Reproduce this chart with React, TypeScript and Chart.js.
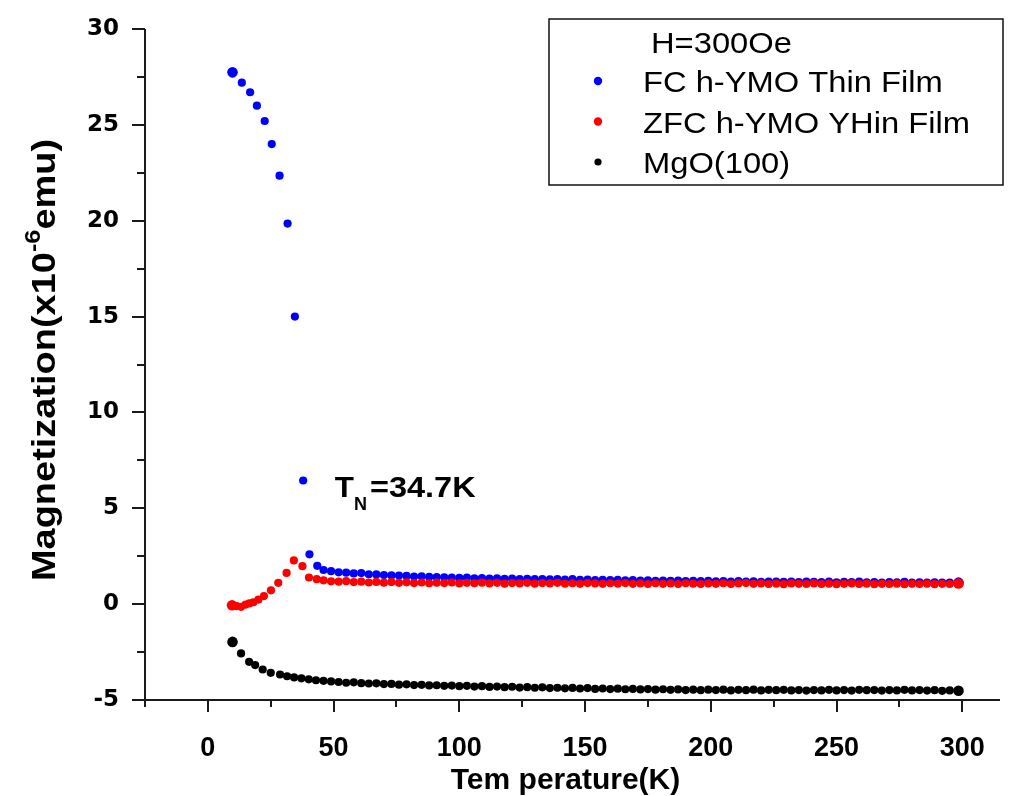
import React, { useEffect, useRef } from "react";
import { Chart, registerables } from "chart.js";

Chart.register(...registerables);

// ---------- data ----------
const highTemps = [
  49, 52, 55, 58, 61, 64, 67, 70, 73, 76,
  79, 82, 85, 88, 91, 94, 97, 100, 103, 106,
  109, 112, 115, 118, 121, 124, 127, 130, 133, 136,
  139, 142, 145, 148, 151, 154, 157, 160, 163, 166,
  169, 172, 175, 178, 181, 184, 187, 190, 193, 196,
  199, 202, 205, 208, 211, 214, 217, 220, 223, 226,
  229, 232, 235, 238, 241, 244, 247, 250, 253, 256,
  259, 262, 265, 268, 271, 274, 277, 280, 283, 286,
  289, 292, 295, 298.5,
];

const fcTemp = [9.8, 13.5, 16.8, 19.5, 22.6, 25.4, 28.5, 31.7, 34.6, 37.9, 40.4, 43.5, 46.0, ...highTemps];
const fcMag = [
  27.74, 27.2, 26.7, 26.0, 25.2, 24.0, 22.35, 19.85, 15.0, 6.45, 2.6, 2.0, 1.78,
  1.72, 1.66, 1.64, 1.6, 1.62, 1.56, 1.55, 1.52, 1.5, 1.49,
  1.47, 1.44, 1.45, 1.42, 1.41, 1.4, 1.38, 1.37, 1.38, 1.35,
  1.36, 1.33, 1.34, 1.32, 1.33, 1.31, 1.32, 1.3, 1.31, 1.29,
  1.3, 1.28, 1.3, 1.27, 1.28, 1.26, 1.27, 1.25, 1.27, 1.24,
  1.25, 1.23, 1.24, 1.22, 1.23, 1.21, 1.23, 1.2, 1.22, 1.2,
  1.21, 1.19, 1.2, 1.18, 1.2, 1.17, 1.19, 1.16, 1.18, 1.17,
  1.16, 1.18, 1.15, 1.17, 1.16, 1.15, 1.17, 1.14, 1.16, 1.15,
  1.17, 1.14, 1.15, 1.13, 1.15, 1.14, 1.16, 1.13, 1.14, 1.12,
  1.14, 1.13, 1.12, 1.12,
];

const zfcTemp = [9.6, 11.4, 13.2, 15.0, 16.5, 18.1, 20.1, 22.3, 25.1, 28.0, 31.3, 34.2, 37.6, 40.2, 43.3, 46.0, ...highTemps];
const zfcMag = [
  -0.06, -0.1, -0.14, -0.02, 0.04, 0.1, 0.24, 0.42, 0.72, 1.11, 1.63, 2.28, 1.98, 1.39, 1.3, 1.24,
  1.19, 1.17, 1.2, 1.15, 1.17, 1.13, 1.16, 1.12, 1.15, 1.11,
  1.14, 1.1, 1.13, 1.09, 1.12, 1.1, 1.13, 1.08, 1.11, 1.09,
  1.12, 1.08, 1.11, 1.07, 1.1, 1.08, 1.11, 1.07, 1.1, 1.08,
  1.11, 1.07, 1.09, 1.06, 1.1, 1.08, 1.06, 1.09, 1.07, 1.1,
  1.06, 1.08, 1.05, 1.09, 1.06, 1.08, 1.05, 1.09, 1.07, 1.05,
  1.08, 1.06, 1.09, 1.05, 1.08, 1.1, 1.06, 1.08, 1.05, 1.07,
  1.04, 1.08, 1.06, 1.05, 1.08, 1.05, 1.07, 1.04, 1.06, 1.08,
  1.05, 1.07, 1.04, 1.06, 1.05, 1.07, 1.04, 1.06, 1.05, 1.07,
  1.04, 1.06, 1.05, 1.08,
];

const mgoTemp = [9.8, 13.2, 16.4, 18.8, 21.8, 25.0, 28.7, 31.5, 34.3, 37.2, 40.1, 43.0, 46.0, ...highTemps];
const mgoMag = [
  -1.97, -2.57, -3.01, -3.18, -3.41, -3.58, -3.67, -3.76, -3.82, -3.87, -3.92, -3.97, -4.0,
  -4.03, -4.06, -4.1, -4.08, -4.12, -4.14, -4.13, -4.17, -4.16, -4.2,
  -4.18, -4.22, -4.21, -4.24, -4.23, -4.26, -4.25, -4.28, -4.26, -4.3,
  -4.28, -4.32, -4.3, -4.33, -4.31, -4.35, -4.33, -4.36, -4.34, -4.38,
  -4.36, -4.39, -4.37, -4.4, -4.38, -4.42, -4.4, -4.43, -4.41, -4.44,
  -4.42, -4.45, -4.43, -4.46, -4.44, -4.47, -4.45, -4.48, -4.46, -4.49,
  -4.46, -4.48, -4.46, -4.5, -4.47, -4.49, -4.46, -4.5, -4.47, -4.49,
  -4.47, -4.5, -4.48, -4.51, -4.48, -4.5, -4.47, -4.5, -4.48, -4.51,
  -4.47, -4.49, -4.48, -4.51, -4.48, -4.5, -4.47, -4.5, -4.48, -4.51,
  -4.49, -4.52, -4.5, -4.52,
];

const seriesLabels = ["FC h-YMO Thin Film", "ZFC h-YMO YHin Film", "MgO(100)"];
const seriesColors = ["#0000ff", "#ff0000", "#000000"];
const legendTitle = "H=300Oe";

const xMajorTicks = [0, 50, 100, 150, 200, 250, 300];
const xMinorTicks = [-25, 25, 75, 125, 175, 225, 275];
const yMajorTicks = [-5, 0, 5, 10, 15, 20, 25, 30];
const yMinorTicks = [-2.5, 2.5, 7.5, 12.5, 17.5, 22.5, 27.5];

const xTitle = "Tem perature(K)";
const yTitleParts = ["Magnetization(x10", "-6", "emu)"];
const annotationPos = [50.5, 5.6]; // [temperature, magnetization]
const annotationText = ["T", "N", "=34.7K"];

// ---------- styling ----------
const SANS = '"Liberation Sans", Arial, sans-serif';
const AXIS_COLOR = "#1a1a1a";

function zip(xs: number[], ys: number[]) {
  const n = Math.min(xs.length, ys.length);
  const out: { x: number; y: number }[] = [];
  for (let i = 0; i < n; i++) out.push({ x: xs[i], y: ys[i] });
  return out;
}

function drawText(ctx: CanvasRenderingContext2D, text: string, x: number, y: number, font: string, sx = 1, align: CanvasTextAlign = "left") {
  ctx.save();
  ctx.font = font;
  ctx.textAlign = align;
  ctx.textBaseline = "alphabetic";
  ctx.translate(x, y);
  ctx.scale(sx, 1);
  ctx.fillText(text, 0, 0);
  ctx.restore();
  ctx.font = font;
  return ctx.measureText(text).width * sx;
}

const decorPlugin = {
  id: "decor",
  afterDraw(chart: any) {
    const { ctx, chartArea } = chart;
    const xs = chart.scales.x;
    const ys = chart.scales.y;
    const { left, right, top, bottom } = chartArea;
    ctx.save();
    ctx.fillStyle = "#000";
    ctx.strokeStyle = AXIS_COLOR;
    ctx.lineWidth = 2;

    // axis lines
    ctx.beginPath();
    ctx.moveTo(left, top);
    ctx.lineTo(left, bottom + 1);
    ctx.moveTo(left - 1, bottom);
    ctx.lineTo(right, bottom);
    ctx.stroke();

    // tick marks
    ctx.beginPath();
    xMajorTicks.forEach((v) => {
      const p = Math.round(xs.getPixelForValue(v));
      ctx.moveTo(p, bottom);
      ctx.lineTo(p, bottom + 12);
    });
    xMinorTicks.forEach((v) => {
      const p = Math.round(xs.getPixelForValue(v));
      ctx.moveTo(p, bottom);
      ctx.lineTo(p, bottom + 7);
    });
    yMajorTicks.forEach((v) => {
      const p = Math.round(ys.getPixelForValue(v));
      ctx.moveTo(left, p);
      ctx.lineTo(left - 13, p);
    });
    yMinorTicks.forEach((v) => {
      const p = Math.round(ys.getPixelForValue(v));
      ctx.moveTo(left, p);
      ctx.lineTo(left - 8, p);
    });
    ctx.stroke();

    // x title
    drawText(ctx, xTitle, (left + right) / 2 - 7, 789, `bold 30px ${SANS}`, 1, "center");

    // y title (rotated, with superscript)
    {
      const mainFont = `bold 33px ${SANS}`;
      const supFont = `bold 22px ${SANS}`;
      const sx = 1.15;
      ctx.save();
      ctx.translate(55, 360);
      ctx.rotate(-Math.PI / 2);
      ctx.font = mainFont;
      const w1 = ctx.measureText(yTitleParts[0]).width * sx;
      const w3 = ctx.measureText(yTitleParts[2]).width * sx;
      ctx.font = supFont;
      const w2 = ctx.measureText(yTitleParts[1]).width * sx;
      let x0 = -(w1 + w2 + w3) / 2;
      drawText(ctx, yTitleParts[0], x0, 0, mainFont, sx);
      x0 += w1;
      drawText(ctx, yTitleParts[1], x0, -15, supFont, sx);
      x0 += w2;
      drawText(ctx, yTitleParts[2], x0, 0, mainFont, sx);
      ctx.restore();
    }

    // T_N annotation
    {
      const ax = xs.getPixelForValue(annotationPos[0]);
      const ay = ys.getPixelForValue(annotationPos[1]);
      let cx = ax;
      cx += drawText(ctx, annotationText[0], cx, ay, `bold 29px ${SANS}`, 1.08);
      cx += drawText(ctx, annotationText[1], cx, ay + 13, `bold 18px ${SANS}`, 1.0);
      drawText(ctx, annotationText[2], cx + 3, ay, `bold 29px ${SANS}`, 1.12);
    }

    // legend box
    {
      const bx = 549, by = 19, bw = 454, bh = 166;
      ctx.fillStyle = "#fff";
      ctx.fillRect(bx, by, bw, bh);
      ctx.strokeStyle = "#111";
      ctx.lineWidth = 1.5;
      ctx.strokeRect(bx, by, bw, bh);
      ctx.fillStyle = "#000";
      const font = `30px ${SANS}`;
      drawText(ctx, legendTitle, 651, 53, font, 1.09);
      const rowCenters = [81, 121.5, 162];
      seriesLabels.forEach((lab, i) => {
        const cy = rowCenters[i];
        ctx.fillStyle = seriesColors[i];
        ctx.beginPath();
        ctx.arc(598, cy, i === 2 ? 3.6 : 4.2, 0, Math.PI * 2);
        ctx.fill();
        ctx.fillStyle = "#000";
        drawText(ctx, lab, 643, cy + 11, font, 1.09);
      });
    }
    ctx.restore();
  },
};

export default function App() {
  const canvasRef = useRef<HTMLCanvasElement | null>(null);

  useEffect(() => {
    const canvas = canvasRef.current;
    if (!canvas) return;
    const radius = (c: any) => {
      const n = c.dataset.data.length;
      return c.dataIndex === 0 || c.dataIndex === n - 1 ? 5.3 : 4.1;
    };
    const mk = (label: string, color: string, xs: number[], ys: number[], order: number) => ({
      label,
      data: zip(xs, ys),
      backgroundColor: color,
      borderColor: color,
      pointRadius: radius,
      pointBorderWidth: 0,
      pointHoverRadius: radius,
      showLine: false,
      order,
    });
    const chart = new Chart(canvas, {
      type: "scatter",
      data: {
        datasets: [
          mk(seriesLabels[0], seriesColors[0], fcTemp, fcMag, 1),
          mk(seriesLabels[1], seriesColors[1], zfcTemp, zfcMag, 0),
          mk(seriesLabels[2], seriesColors[2], mgoTemp, mgoMag, 2),
        ],
      },
      plugins: [decorPlugin],
      options: {
        animation: false,
        responsive: false,
        devicePixelRatio: 1,
        layout: { padding: { top: 29, right: 17, left: 0, bottom: 0 } },
        plugins: {
          legend: { display: false },
          tooltip: { enabled: false },
          title: { display: false },
        },
        scales: {
          x: {
            type: "linear",
            min: -25,
            max: 315,
            afterBuildTicks: (s: any) => {
              s.ticks = xMajorTicks.map((v) => ({ value: v }));
            },
            afterFit: (s: any) => {
              s.height = 96;
              s.paddingLeft = 0;
              s.paddingRight = 0;
            },
            grid: { display: false, drawTicks: false },
            border: { display: false },
            ticks: {
              color: "#000",
              font: { family: SANS, size: 27, weight: "bold" },
              padding: 32,
              maxRotation: 0,
              autoSkip: false,
            },
          },
          y: {
            type: "linear",
            min: -5,
            max: 30,
            afterBuildTicks: (s: any) => {
              s.ticks = yMajorTicks.map((v) => ({ value: v }));
            },
            afterFit: (s: any) => {
              s.width = 145;
              s.paddingTop = 0;
              s.paddingBottom = 0;
            },
            grid: { display: false, drawTicks: false },
            border: { display: false },
            ticks: {
              color: "#000",
              font: { family: '"DejaVu Sans", sans-serif', size: 23, weight: "bold" },
              padding: 26,
              autoSkip: false,
            },
          },
        },
      },
    } as any);
    return () => chart.destroy();
  }, []);

  return (
    <div style={{ position: "absolute", left: 0, top: 0, width: 1017, height: 796, background: "#fff" }}>
      <canvas ref={canvasRef} width={1017} height={796} style={{ display: "block", width: 1017, height: 796 }} />
    </div>
  );
}
